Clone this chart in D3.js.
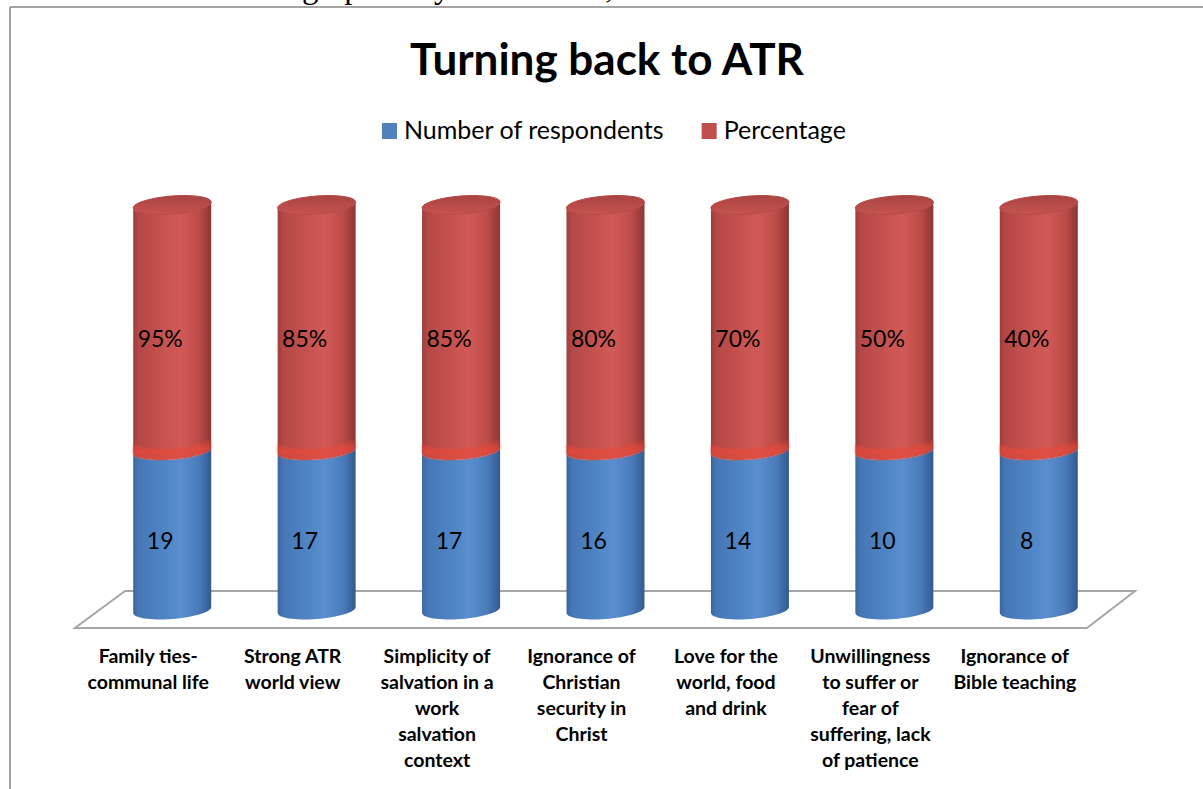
<!DOCTYPE html>
<html>
<head>
<meta charset="utf-8">
<script src="https://cdn.jsdelivr.net/npm/d3@7"></script>
<style>
  html, body { margin: 0; padding: 0; background: #fff; overflow: hidden; }
  svg { display: block; }
</style>
</head>
<body>
<svg id="chart" width="1203" height="789"></svg>
<script>
// ---- data ----
const categories = [
  "Family ties-\ncommunal life",
  "Strong ATR\nworld view",
  "Simplicity of\nsalvation in a\nwork\nsalvation\ncontext",
  "Ignorance of\nChristian\nsecurity in\nChrist",
  "Love for the\nworld, food\nand drink",
  "Unwillingness\nto suffer or\nfear of\nsuffering, lack\nof patience",
  "Ignorance of\nBible teaching"
];
const respondents = [19, 17, 17, 16, 14, 10, 8];
const percentages = [95, 85, 85, 80, 70, 50, 40];
const seriesNames = ["Number of respondents", "Percentage"];
const seriesKeys = ["resp", "pct"];
const seriesColors = ["#4f81bd", "#c0504d"];
const chartTitle = "Turning back to ATR";

// ---- setup ----
const svg = d3.select("#chart");
const W = 1203, H = 789;
const FONT = "Lato, 'Open Sans', 'DejaVu Sans', sans-serif";

svg.append("rect").attr("width", W).attr("height", H).attr("fill", "#fff");

// running text of the page, cut by the top edge
svg.append("text")
  .attr("x", 302).attr("y", -2)
  .attr("font-family", "'Liberation Serif', 'Times New Roman', serif")
  .attr("font-size", 33)
  .attr("fill", "#000")
  .text("graphically in the table,");

// chart frame
svg.append("line").attr("x1", 10).attr("y1", 7).attr("x2", W).attr("y2", 7)
  .attr("stroke", "#868686").attr("stroke-width", 1.5);
svg.append("line").attr("x1", 10).attr("y1", 7).attr("x2", 10).attr("y2", H)
  .attr("stroke", "#868686").attr("stroke-width", 1.5);

// ---- title ----
svg.append("text")
  .attr("x", 607).attr("y", 75)
  .attr("text-anchor", "middle")
  .attr("font-family", FONT).attr("font-weight", 700).attr("font-size", 44)
  .attr("fill", "#000")
  .text(chartTitle);

// ---- legend ----
const legend = svg.append("g").attr("font-family", FONT).attr("font-size", 25);
let lx = 382;
seriesNames.forEach((name, i) => {
  legend.append("rect").attr("x", lx).attr("y", 123).attr("width", 15).attr("height", 16)
    .attr("fill", seriesColors[i]);
  const t = legend.append("text").attr("x", lx + 22).attr("y", 139).attr("fill", "#000").text(name);
  lx += 22 + t.node().getComputedTextLength() + 38;
});

// ---- scales ----
const rows = categories.map((c, i) => ({ cat: c, resp: respondents[i], pct: percentages[i] }));
const stacked = d3.stack().keys(seriesKeys).offset(d3.stackOffsetExpand)(rows);

const x = d3.scaleBand()
  .domain(categories)
  .range([100, 1111])
  .paddingInner(0.46)
  .paddingOuter(0.23);

const y = d3.scalePow().exponent(0.52).domain([0, 1]).range([610, 205]);

// ---- gradients ----
const defs = svg.append("defs");
function hGrad(id, stops) {
  const g = defs.append("linearGradient").attr("id", id)
    .attr("x1", 0).attr("y1", 0).attr("x2", 1).attr("y2", 0);
  stops.forEach(([o, c]) => g.append("stop").attr("offset", o).attr("stop-color", c));
}
hGrad("side-resp", [[0, "#3a659f"], [0.07, "#4677b5"], [0.35, "#4e83c3"], [0.6, "#5a8fcf"], [0.84, "#4a7bb9"], [0.94, "#3c66a2"], [1, "#34598f"]]);
hGrad("side-pct", [[0, "#9c3d3b"], [0.07, "#b44846"], [0.35, "#c5514e"], [0.6, "#d25a56"], [0.84, "#bd4b48"], [0.94, "#9e3d3b"], [1, "#8c3634"]]);
const capG = defs.append("linearGradient").attr("id", "cap-pct")
  .attr("x1", 0).attr("y1", 0).attr("x2", 0).attr("y2", 1);
capG.append("stop").attr("offset", 0).attr("stop-color", "#a84442");
capG.append("stop").attr("offset", 1).attr("stop-color", "#c7534f");
const bandG = defs.append("linearGradient").attr("id", "seam")
  .attr("x1", 0).attr("y1", 0).attr("x2", 0).attr("y2", 1);
bandG.append("stop").attr("offset", 0).attr("stop-color", "#e8483a").attr("stop-opacity", 0);
bandG.append("stop").attr("offset", 0.55).attr("stop-color", "#e8483a").attr("stop-opacity", 0.75);
bandG.append("stop").attr("offset", 1).attr("stop-color", "#e14a3c").attr("stop-opacity", 0.55);
defs.append("filter").attr("id", "soft").attr("x", "-10%").attr("y", "-50%").attr("width", "120%").attr("height", "200%")
  .append("feGaussianBlur").attr("stdDeviation", 1.2);

// ---- cylinder geometry ----
const rx = x.bandwidth() / 2;
const ry = 9;
const shear = -0.075;          // right side of each ellipse sits a little higher
function E(cx, cy, t) {
  return [cx + rx * Math.cos(t), cy + ry * Math.sin(t) + shear * rx * Math.cos(t)];
}
const N = 32;
function frontArc(cx, cy, leftToRight) {
  const pts = [];
  for (let i = 0; i <= N; i++) {
    const t = leftToRight ? Math.PI - Math.PI * i / N : Math.PI * i / N;
    pts.push(E(cx, cy, t));
  }
  return pts;
}
function sidePath(cx, yb, yt) {
  return d3.line()(frontArc(cx, yb, true).concat(frontArc(cx, yt, false))) + "Z";
}
function ellipsePath(cx, cy) {
  const pts = d3.range(0, 2 * N + 1).map(i => E(cx, cy, Math.PI * i / N));
  return d3.line()(pts) + "Z";
}

// ---- floor ----
const [r0, r1] = x.range();
const y0 = y(0);
svg.append("path")
  .attr("d", d3.line()([[r0 + 25, y0 - 19], [r1 + 24, y0 - 19], [r1 - 24, y0 + 18], [r0 - 25, y0 + 18]]) + "Z")
  .attr("fill", "#fff").attr("stroke", "#a6a6a6").attr("stroke-width", 2);

// ---- cylinders ----
const bars = svg.append("g");
stacked.forEach((layer, li) => {
  layer.forEach((d, i) => {
    const cx = x(categories[i]) + rx;
    const yb = y(d[0]), yt = y(d[1]);
    bars.append("path").attr("d", sidePath(cx, yb, yt))
      .attr("fill", `url(#side-${layer.key})`);
    if (li > 0) {
      // lit seam where this segment sits on the one below
      bars.append("path").attr("d", sidePath(cx, yb, yb - 11))
        .attr("fill", "url(#seam)").attr("filter", "url(#soft)");
    }
    if (li === stacked.length - 1) {
      bars.append("path").attr("d", ellipsePath(cx, yt))
        .attr("fill", "url(#cap-pct)").attr("stroke", "#b24644").attr("stroke-width", 1);
    }
  });
});

// ---- value labels ----
const labelText = [respondents.map(String), percentages.map(v => v + "%")];
const vlabels = svg.append("g").attr("font-family", FONT).attr("font-size", 23)
  .attr("text-anchor", "middle").attr("fill", "#000");
stacked.forEach((layer, li) => {
  layer.forEach((d, i) => {
    const cx = x(categories[i]) + rx;
    const mid = (y(d[0]) + y(d[1])) / 2 + ry;
    vlabels.append("text").attr("x", cx - 12).attr("y", mid + 1)
      .attr("dominant-baseline", "central")
      .text(labelText[li][i]);
  });
});

// ---- category labels ----
const clabels = svg.append("g").attr("font-family", FONT).attr("font-weight", 700)
  .attr("font-size", 19.5).attr("text-anchor", "middle").attr("fill", "#000");
categories.forEach(c => {
  const cx = x(c) + rx - 24;
  const t = clabels.append("text").attr("x", cx).attr("y", 663);
  c.split("\n").forEach((line, j) => {
    t.append("tspan").attr("x", cx).attr("dy", j === 0 ? 0 : 26).text(line);
  });
});
</script>
</body>
</html>
